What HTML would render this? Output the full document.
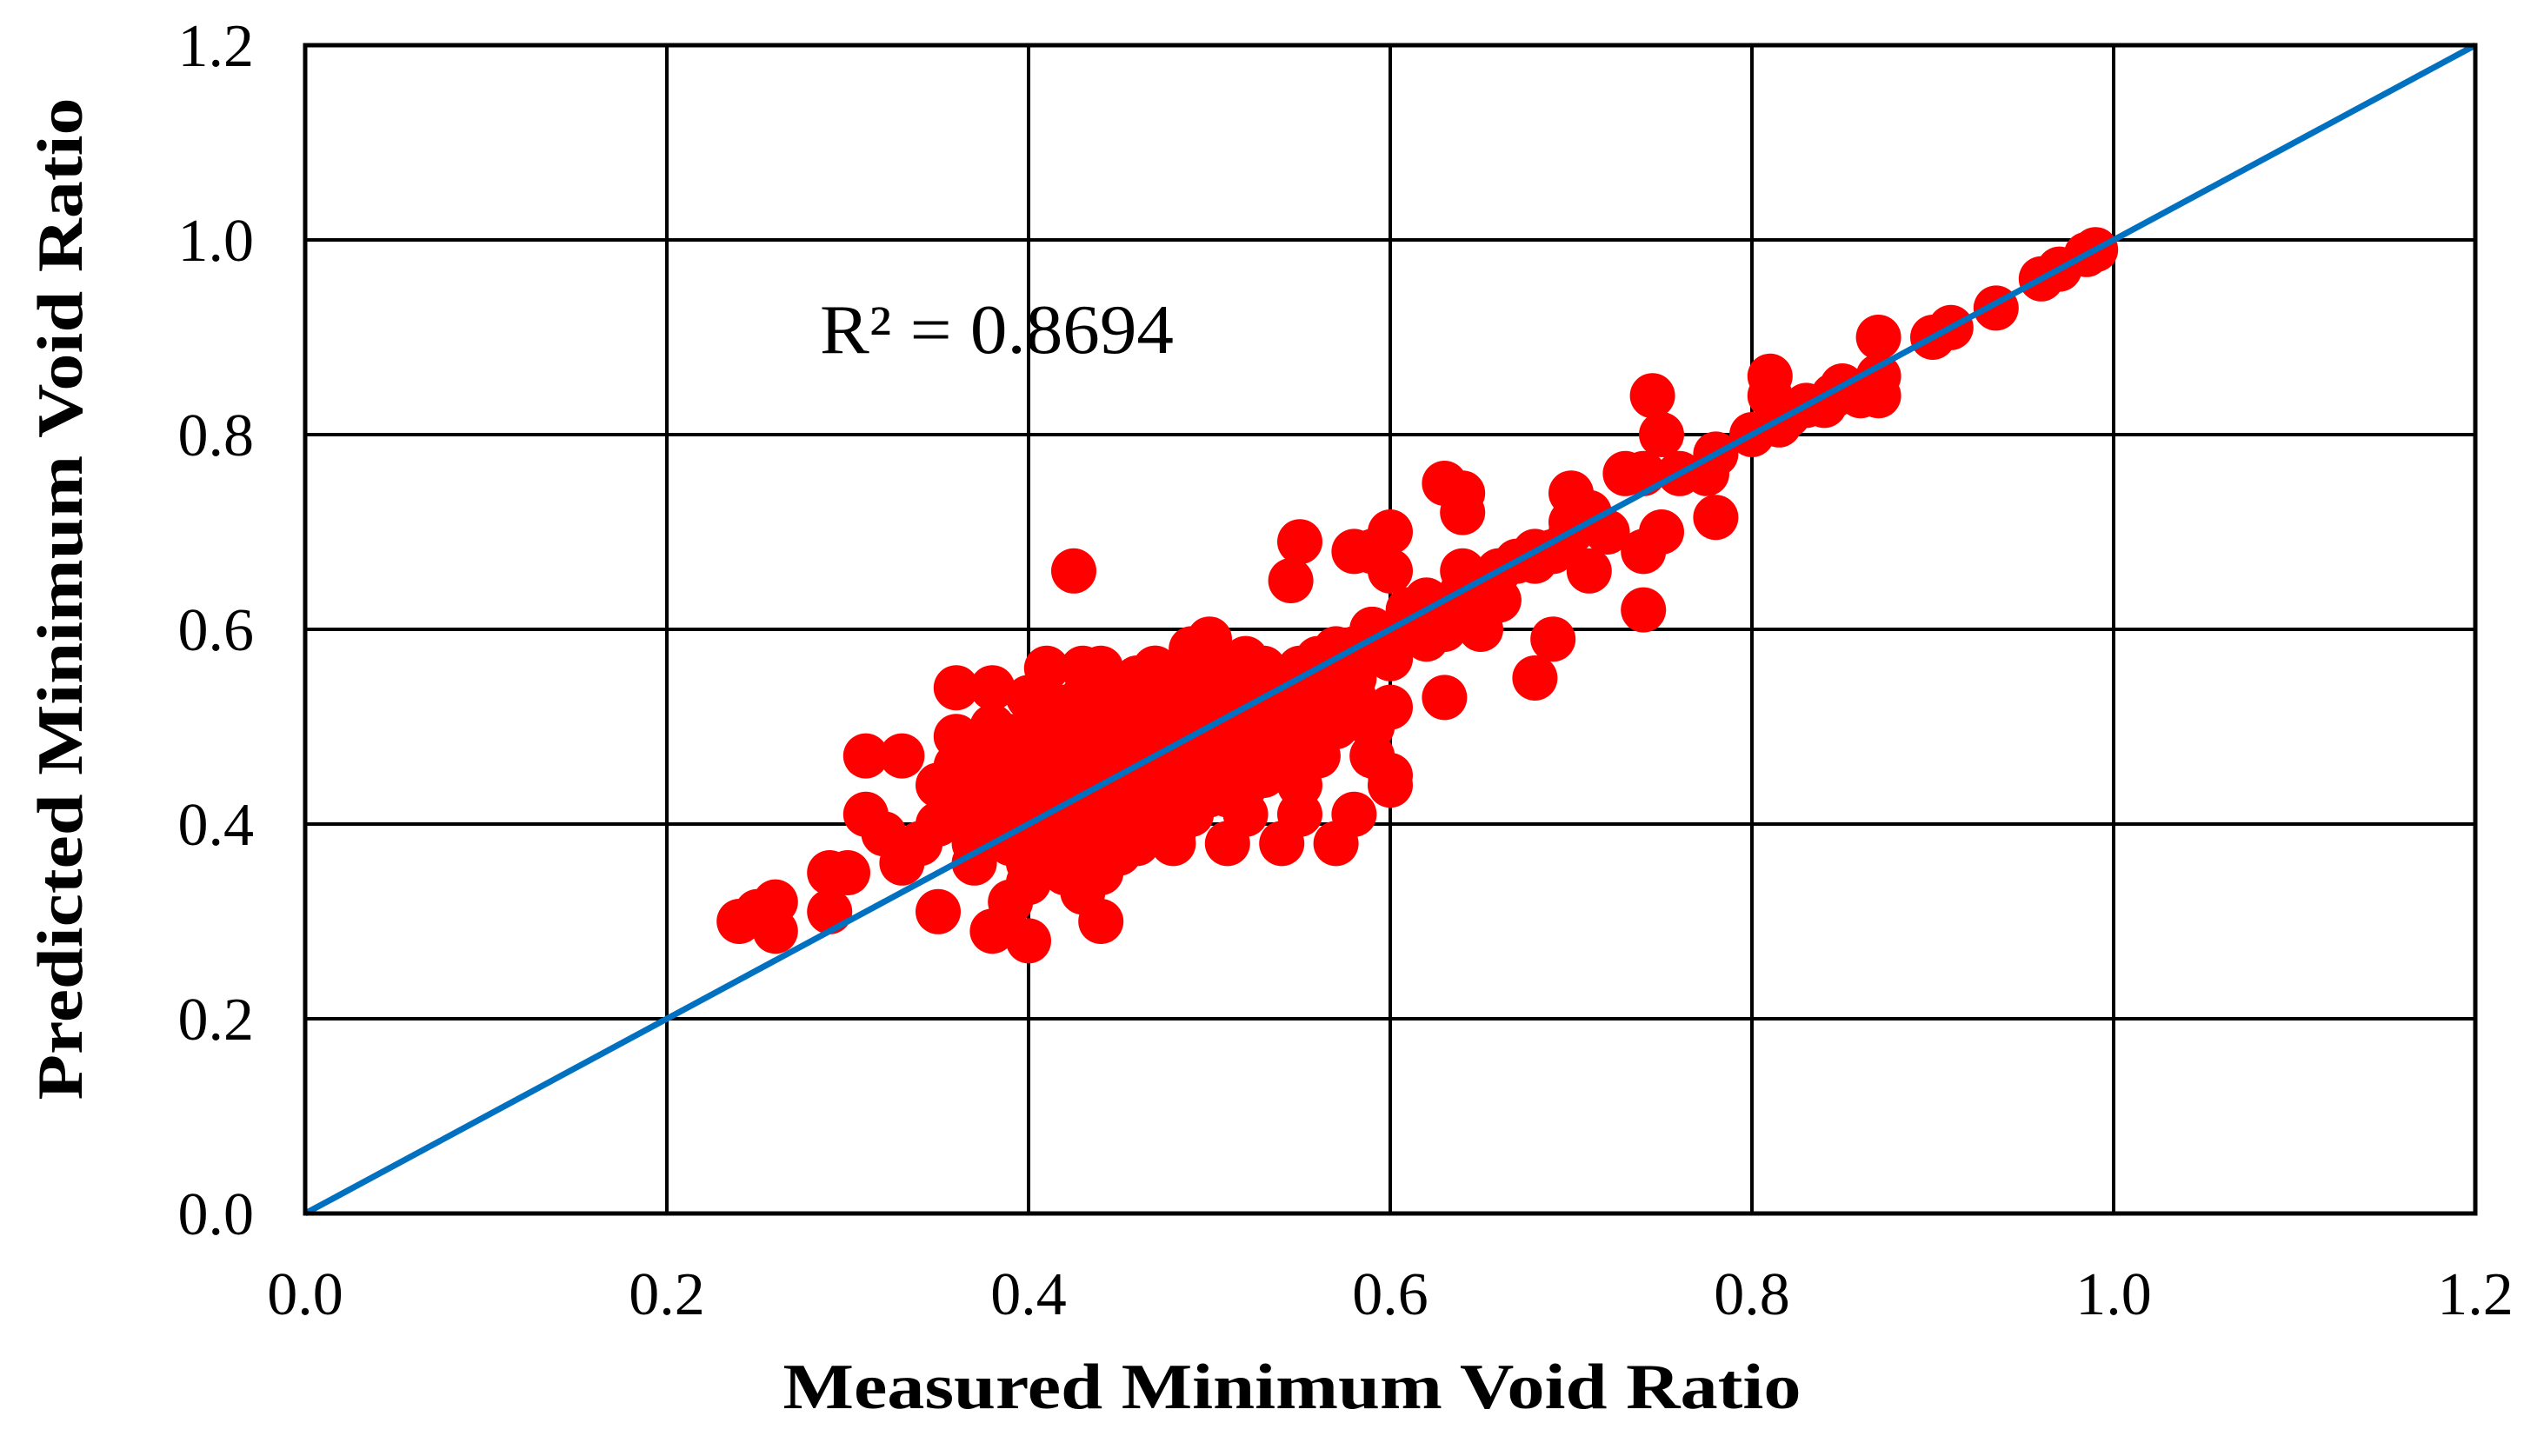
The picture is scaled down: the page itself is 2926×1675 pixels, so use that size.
<!DOCTYPE html>
<html><head><meta charset="utf-8"><style>
html,body{margin:0;padding:0;background:#fff;}
svg{display:block;}
text{font-family:"Liberation Serif",serif;fill:#000;}
</style></head><body>
<svg id="chart" width="2926" height="1675" viewBox="0 0 2926 1675" xmlns="http://www.w3.org/2000/svg">
<rect width="2926" height="1675" fill="#fff"/>
<g id="grid"></g>
<g id="points"></g>
<g id="line"></g>
<g id="axes"></g>
<text x="943" y="380" font-size="80" dominant-baseline="central" textLength="407" lengthAdjust="spacingAndGlyphs">R² = 0.8694</text>
<text x="1486" y="1620" font-size="74" font-weight="bold" text-anchor="middle" textLength="1171" lengthAdjust="spacingAndGlyphs">Measured Minimum Void Ratio</text>
<text transform="translate(94,689) rotate(-90)" font-size="74" font-weight="bold" text-anchor="middle" textLength="1153" lengthAdjust="spacingAndGlyphs">Predicted Minimum Void Ratio</text>
</svg>
<script>
const xTicks = [0.0,0.2,0.4,0.6,0.8,1.0,1.2];
const yTicks = [0.0,0.2,0.4,0.6,0.8,1.0,1.2];
const xTickLabels = ["0.0","0.2","0.4","0.6","0.8","1.0","1.2"];
const yTickLabels = ["0.0","0.2","0.4","0.6","0.8","1.0","1.2"];
const measured = [0.99,0.985,0.97,0.96,0.935,0.91,0.90,0.87,0.87,0.86,0.87,0.85,0.84,0.83,0.82,0.81,0.81,0.80,0.815,0.845,0.78,0.775,0.78,0.745,0.75,0.76,0.74,0.73,0.75,0.74,0.74,0.72,0.71,0.70,0.70,0.69,0.71,0.69,0.68,0.67,0.66,0.65,0.64,0.63,0.64,0.64,0.65,0.63,0.63,0.62,0.61,0.60,0.60,0.59,0.58,0.60,0.60,0.60,0.60,0.59,0.58,0.57,0.56,0.55,0.55,0.545,0.56,0.57,0.56,0.54,0.53,0.52,0.51,0.50,0.49,0.51,0.52,0.50,0.49,0.48,0.47,0.46,0.46,0.47,0.48,0.45,0.44,0.43,0.44,0.43,0.425,0.42,0.41,0.40,0.39,0.38,0.39,0.40,0.41,0.42,0.40,0.39,0.40,0.38,0.37,0.36,0.38,0.37,0.36,0.35,0.35,0.34,0.33,0.33,0.31,0.31,0.32,0.30,0.29,0.29,0.26,0.25,0.24,0.26,
0.38,0.39,0.40,0.41,0.42,0.43,0.44,0.45,0.46,0.47,0.48,0.49,0.50,
0.38,0.39,0.40,0.41,0.42,0.43,0.44,0.45,0.46,0.47,0.48,0.49,0.50,0.51,0.52,
0.37,0.39,0.41,0.43,0.45,0.47,0.49,0.51,0.53,0.55,
0.40,0.42,0.44,0.46,0.48,0.50,0.52,0.54,0.56,0.58,
0.53,0.55,0.57,0.59,0.61,0.62,0.64,0.66,0.68,0.70,
0.52,0.54,0.56,0.58,0.60,0.62,0.64,0.66,
0.36,0.38,0.40,0.42,0.44,0.46,0.35,0.37,0.41,0.43,0.45,0.47,0.49,0.51,
0.37,0.40,0.43,0.46,0.49,0.52,0.55,
0.37,0.40,0.43,0.46,0.49,0.52,0.55,0.58,
0.38,0.41,0.44,0.47,0.50,0.53,0.56,0.59,
0.38,0.41,0.44,0.47,0.50,0.53,0.56,0.59,
0.39,0.42,0.45,0.48,0.51,0.54,0.57,
0.40,0.43,0.46,0.49,0.52,0.55,0.58,
0.41,0.44,0.47,0.50,0.53,0.56,
0.36,0.39,0.42,0.45,0.48,
0.38,0.41,0.44,0.47,0.50,0.53,0.56,0.59,0.62,0.65,0.68,
0.42,0.45,0.48,0.51,0.54,0.57,0.60,0.63,0.66];
const predicted = [0.99,0.985,0.97,0.96,0.93,0.91,0.90,0.90,0.86,0.84,0.84,0.85,0.83,0.83,0.82,0.86,0.84,0.80,0.81,0.84,0.78,0.76,0.715,0.84,0.80,0.76,0.76,0.76,0.70,0.68,0.62,0.70,0.72,0.74,0.70,0.68,0.66,0.59,0.55,0.67,0.66,0.64,0.72,0.75,0.74,0.66,0.60,0.62,0.53,0.63,0.62,0.70,0.66,0.68,0.68,0.58,0.52,0.45,0.44,0.60,0.58,0.57,0.56,0.55,0.69,0.65,0.52,0.50,0.47,0.47,0.45,0.44,0.43,0.59,0.58,0.54,0.52,0.50,0.49,0.47,0.56,0.55,0.42,0.40,0.39,0.37,0.35,0.33,0.30,0.56,0.66,0.52,0.50,0.48,0.47,0.45,0.42,0.40,0.38,0.36,0.34,0.32,0.28,0.29,0.36,0.54,0.54,0.48,0.42,0.44,0.31,0.38,0.36,0.47,0.47,0.41,0.39,0.35,0.35,0.31,0.32,0.31,0.30,0.29,
0.40,0.41,0.42,0.43,0.44,0.45,0.46,0.47,0.48,0.49,0.50,0.51,0.52,
0.46,0.47,0.48,0.49,0.50,0.51,0.52,0.52,0.53,0.54,0.54,0.55,0.55,0.56,0.57,
0.38,0.39,0.40,0.41,0.42,0.43,0.44,0.46,0.48,0.50,
0.36,0.37,0.38,0.40,0.41,0.43,0.45,0.47,0.49,0.51,
0.54,0.56,0.58,0.60,0.62,0.60,0.64,0.66,0.67,0.71,
0.49,0.51,0.53,0.55,0.57,0.59,0.61,0.63,
0.46,0.44,0.36,0.35,0.39,0.38,0.40,0.42,0.45,0.47,0.49,0.51,0.53,0.55,
0.44,0.44,0.44,0.44,0.44,0.44,0.44,
0.41,0.41,0.41,0.41,0.41,0.41,0.41,0.41,
0.47,0.47,0.47,0.47,0.47,0.47,0.47,0.47,
0.50,0.50,0.50,0.50,0.50,0.50,0.50,0.50,
0.38,0.38,0.38,0.38,0.38,0.38,0.38,
0.53,0.53,0.53,0.53,0.53,0.53,0.53,
0.56,0.56,0.56,0.56,0.56,0.56,
0.49,0.49,0.50,0.51,0.52,
0.43,0.45,0.47,0.49,0.51,0.54,0.57,0.60,0.63,0.65,0.68,
0.40,0.42,0.45,0.48,0.51,0.54,0.57,0.60,0.63];
const X0=351, X1=2847, Y0=1396, Y1=52;
const sx = v => X0 + (v/1.2)*(X1-X0);
const sy = v => Y0 - (v/1.2)*(Y0-Y1);
const NS="http://www.w3.org/2000/svg";
function mk(tag, attrs, parent){const e=document.createElementNS(NS,tag);for(const k in attrs)e.setAttribute(k,attrs[k]);parent.appendChild(e);return e;}
const grid=document.getElementById('grid');
xTicks.forEach((t,i)=>{
  const l=mk('line',{x1:sx(t),x2:sx(t),y1:Y1,y2:Y0,stroke:'#000','stroke-width':4},grid);
  
  
  const tx=mk('text',{x:sx(t),y:1512,'font-size':70,'text-anchor':'middle'},grid);
  tx.textContent=xTickLabels[i];
  
  
});
yTicks.forEach((t,i)=>{
  const l=mk('line',{x1:X0,x2:X1,y1:sy(t),y2:sy(t),stroke:'#000','stroke-width':4},grid);
  
  
  const tx=mk('text',{x:292,y:sy(t)+24,'font-size':70,'text-anchor':'end'},grid);
  tx.textContent=yTickLabels[i];
  
  
});
const pts=document.getElementById('points');
measured.forEach((m,i)=>{
  const c=mk('circle',{cx:sx(m),cy:sy(predicted[i]),r:26,fill:'#ff0000'},pts);
  
  
});
const ln=document.getElementById('line');
const d=mk('line',{x1:sx(0),y1:sy(0),x2:sx(1.2),y2:sy(1.2),stroke:'#0070c0','stroke-width':7},ln);


const ax=document.getElementById('axes');
const fr=mk('rect',{x:X0,y:Y1,width:X1-X0,height:Y0-Y1,fill:'none',stroke:'#000','stroke-width':5},ax);


</script>
</body></html>
